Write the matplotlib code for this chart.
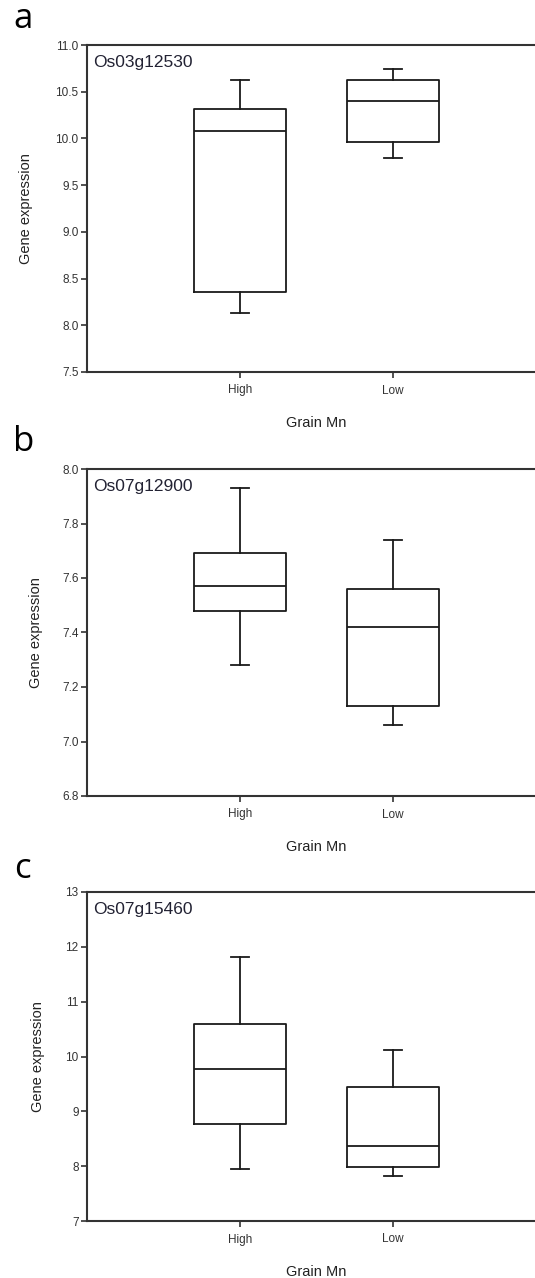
import matplotlib
matplotlib.use("Agg")
import matplotlib.pyplot as plt
import numpy as np

categories = ["High", "Low"]
panel_letters = ["a", "b", "c"]
gene_names = ["Os03g12530", "Os07g12900", "Os07g15460"]

# per panel: [whislo, q1, median, q3, whishi] for High and Low
a_high = [8.13, 8.36, 10.08, 10.31, 10.63]
a_low = [9.79, 9.96, 10.40, 10.63, 10.74]
b_high = [7.28, 7.48, 7.57, 7.69, 7.93]
b_low = [7.06, 7.13, 7.42, 7.56, 7.74]
c_high = [7.95, 8.76, 9.78, 10.59, 11.82]
c_low = [7.82, 7.98, 8.37, 9.44, 10.12]

ylims = [(7.5, 11.0), (6.8, 8.0), (7, 13)]
yticks = [np.arange(7.5, 11.01, 0.5), np.arange(6.8, 8.01, 0.2), np.arange(7, 13.01, 1)]
ytick_fmt = ["{:.1f}", "{:.1f}", "{:.0f}"]

panels = [(a_high, a_low), (b_high, b_low), (c_high, c_low)]

W, H = 535, 1278
fig = plt.figure(figsize=(W / 100, H / 100), dpi=100)
plt.rcParams['font.family'] = ['Liberation Sans', 'DejaVu Sans']

# axes pixel boxes: (left, top, right, bottom)
boxes = [(87, 45, 546, 372), (87, 469, 546, 796), (87, 892, 546, 1221)]
letter_pos = [(13, 28), (13, 451), (14, 878)]
ylabel_x = [26, 36, 38]

for i, (hi, lo) in enumerate(panels):
    l, t, r, b = boxes[i]
    ax = fig.add_axes([l / W, 1 - b / H, (r - l) / W, (b - t) / H])
    stats = []
    for name, v in zip(categories, (hi, lo)):
        stats.append(dict(label=name, whislo=v[0], q1=v[1], med=v[2], q3=v[3], whishi=v[4], fliers=[]))
    ax.bxp(stats, positions=[1, 2], widths=0.6, showfliers=False, capwidths=0.12,
           boxprops=dict(color='#1a1a1a', linewidth=1.3),
           whiskerprops=dict(color='#1a1a1a', linewidth=1.3),
           capprops=dict(color='#1a1a1a', linewidth=1.3),
           medianprops=dict(color='#1a1a1a', linewidth=1.3))
    ax.set_xlim(0, 3)
    ax.set_ylim(*ylims[i])
    ax.set_yticks(yticks[i])
    ax.set_yticklabels([ytick_fmt[i].format(v) for v in yticks[i]])
    ax.set_xticks([1, 2])
    ax.set_xticklabels(categories)
    for s in ax.spines.values():
        s.set_color('#333333')
        s.set_linewidth(1.5)
    ax.tick_params(direction='out', length=4, width=1.2, color='#333333',
                   labelsize=8.5, labelcolor='#333333', pad=2)
    ax.tick_params(axis='x', pad=5)
    ax.set_ylabel("Gene expression", fontsize=10.5, color='#222222')
    ax.yaxis.set_label_coords((ylabel_x[i] - l) / (r - l), 0.5)
    ax.yaxis.label.set_va('center')
    ax.set_xlabel("Grain Mn", fontsize=10.5, color='#222222', labelpad=14)
    ax.text(6 / (r - l), 1 - 10 / (b - t), gene_names[i], transform=ax.transAxes,
            fontsize=12.5, color='#222233', va='top', ha='left')
    fig.text(letter_pos[i][0] / W, 1 - letter_pos[i][1] / H, panel_letters[i],
             fontsize=25, family=['Open Sans', 'DejaVu Sans'], color='black',
             ha='left', va='baseline')

fig.savefig("out.png", dpi=100, facecolor='white')
